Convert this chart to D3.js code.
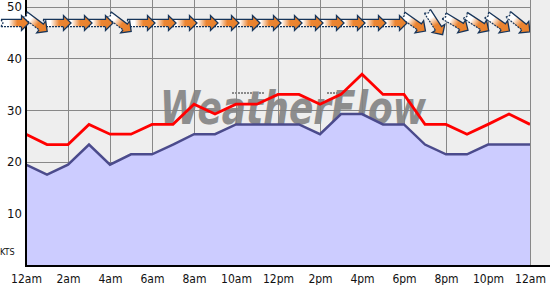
<!DOCTYPE html>
<html>
<head>
<meta charset="utf-8">
<script src="https://cdn.jsdelivr.net/npm/d3@7"></script>
<style>
  body { margin: 0; background: #fff; }
  svg { display: block; }
  text { font-family: "DejaVu Sans Condensed", "DejaVu Sans", sans-serif; }
</style>
</head>
<body>
<div id="chart"></div>
<script>
// hourly samples, knots
const hours = [0, 1, 2, 3, 4, 5, 6, 7, 8, 9, 10, 11, 12, 13, 14, 15, 16, 17, 18, 19, 20, 21, 22, 23, 24];
const lull = [19.4, 17.5, 19.4, 23.3, 19.4, 21.4, 21.4, 23.3, 25.3, 25.3, 27.2, 27.2, 27.2,
              27.2, 25.3, 29.2, 29.2, 27.2, 27.2, 23.3, 21.4, 21.4, 23.3, 23.3, 23.3];
const gust = [25.3, 23.3, 23.3, 27.2, 25.3, 25.3, 27.2, 27.2, 31.1, 29.2, 31.1, 31.1, 33.0,
              33.0, 31.1, 33.0, 36.9, 33.0, 33.0, 27.2, 27.2, 25.3, 27.2, 29.2, 27.2];
// direction the wind comes from, degrees
const windDir = [270, 307, 270, 270, 270, 307, 270, 270, 270, 270, 270, 270, 270,
                 270, 270, 270, 270, 270, 270, 305, 327, 301, 303, 305, 309];
const xTicks = [0, 2, 4, 6, 8, 10, 12, 14, 16, 18, 20, 22, 24];
const xTickLabels = ['12am', '2am', '4am', '6am', '8am', '10am', '12pm', '2pm', '4pm', '6pm', '8pm', '10pm', '12am'];
const yTicks = [10, 20, 30, 40, 50];

const W = 550, H = 285;
const plotLeft = 26, plotRight = 530, plotBottom = 265, plotTop = 6.5;

const svg = d3.select('#chart').append('svg').attr('width', W).attr('height', H);

const x = d3.scaleLinear().domain([0, 24]).range([plotLeft, plotRight]);
const y = d3.scaleLinear().domain([0, 50]).range([plotBottom, plotTop]);

// plot background
svg.append('rect').attr('x', plotLeft).attr('y', 0).attr('width', W - plotLeft).attr('height', plotBottom).attr('fill', '#eeeeee');

// grid
const grid = svg.append('g').attr('stroke', '#888').attr('stroke-width', 1);
grid.selectAll('.vg').data(xTicks).enter().append('line')
  .attr('x1', d => Math.round(x(d)) + 0.5).attr('x2', d => Math.round(x(d)) + 0.5)
  .attr('y1', 0).attr('y2', plotBottom);
grid.selectAll('.hg').data(yTicks).enter().append('line')
  .attr('x1', plotLeft).attr('x2', plotRight)
  .attr('y1', d => Math.round(y(d)) + 0.5).attr('y2', d => Math.round(y(d)) + 0.5);

// watermark
svg.append('text')
  .attr('x', 160).attr('y', 124)
  .attr('textLength', 266).attr('lengthAdjust', 'spacingAndGlyphs')
  .style('font-family', '"DejaVu Sans", sans-serif')
  .style('font-size', '46px').style('font-weight', 'bold').style('font-style', 'italic')
  .attr('fill', '#838383').attr('opacity', 0.9)
  .text('WeatherFlow');
svg.append('g').attr('stroke', '#8a8a8a').attr('stroke-width', 2).attr('stroke-dasharray', '2,1')
  .selectAll('line').data([[232, 264], [327, 347]]).enter().append('line')
  .attr('x1', d => d[0]).attr('x2', d => d[1]).attr('y1', 93).attr('y2', 93);

// lull area + line
const area = d3.area().x((d, i) => x(hours[i])).y0(y(0)).y1(d => y(d));
svg.append('path').datum(lull).attr('d', area).attr('fill', '#ccccff');
const line = d3.line().x((d, i) => x(hours[i])).y(d => y(d));
svg.append('path').datum(lull).attr('d', line)
  .attr('fill', 'none').attr('stroke', '#4b4b8c').attr('stroke-width', 2.5);
svg.append('path').datum(gust).attr('d', line)
  .attr('fill', 'none').attr('stroke', '#ff0000').attr('stroke-width', 2.8);

// right-edge grid line sits over the area
svg.append('line').attr('x1', plotRight + 0.5).attr('x2', plotRight + 0.5).attr('y1', 0).attr('y2', plotBottom)
  .attr('stroke', '#888');

// axes lines
svg.append('line').attr('x1', plotLeft).attr('x2', W).attr('y1', plotBottom + 1).attr('y2', plotBottom + 1)
  .attr('stroke', '#000').attr('stroke-width', 2);
svg.append('line').attr('x1', plotLeft).attr('x2', plotLeft).attr('y1', 0).attr('y2', plotBottom + 2)
  .attr('stroke', '#000').attr('stroke-width', 2);

// wind arrows
const defs = svg.append('defs');
const grad = defs.append('linearGradient').attr('id', 'arrowGrad')
  .attr('x1', 0).attr('x2', 1).attr('y1', 0).attr('y2', 0);
grad.append('stop').attr('offset', '0%').attr('stop-color', '#ffffff');
grad.append('stop').attr('offset', '27%').attr('stop-color', '#ffffff');
grad.append('stop').attr('offset', '58%').attr('stop-color', '#ec8532');
grad.append('stop').attr('offset', '100%').attr('stop-color', '#e8802a');
defs.append('clipPath').attr('id', 'arrowClip').append('rect')
  .attr('x', 0).attr('y', 0).attr('width', plotRight).attr('height', 60);

const L = 28, head = 7.5, hh = 7.5, sh = 3.6;
const tipX = L / 2, baseX = L / 2 - head;
const arrowPath = `M${-L / 2},${-sh}L${baseX},${-sh}L${baseX},${-hh}L${tipX},0` +
  `L${baseX},${hh}L${baseX},${sh}L${-L / 2},${sh}L${-L / 2 + 2},0Z`;
const arrows = svg.append('g').attr('clip-path', 'url(#arrowClip)');
// drawn right to left so each head sits over the next tail
const arrowData = hours.map((h, i) => ({ h, dir: windDir[i] })).reverse();
const ag = arrows.selectAll('.arrow').data(arrowData).enter().append('g')
  .attr('transform', d => `translate(${x(d.h) - 11},23) rotate(${d.dir - 270})`);
ag.append('path').attr('d', arrowPath).attr('fill', 'url(#arrowGrad)');
ag.append('path')
  .attr('d', `M${-L / 2},${-sh}L${baseX},${-sh}L${baseX},${-hh}L${tipX},0L${baseX},${hh}L${baseX},${sh}`)
  .attr('fill', 'none').attr('stroke', '#17355a').attr('stroke-width', 1.3).attr('stroke-linejoin', 'miter');
ag.append('path')
  .attr('d', `M${-L / 2},${sh}L${baseX},${sh}M${-L / 2},${sh}L${-L / 2 + 2},0L${-L / 2},${-sh}`)
  .attr('fill', 'none').attr('stroke', '#17355a').attr('stroke-width', 1.2).attr('stroke-dasharray', '2,1');

// y labels
svg.append('g').selectAll('text').data(yTicks).enter().append('text')
  .attr('x', 22).attr('y', d => y(d)).attr('dy', '0.36em')
  .attr('text-anchor', 'end').style('font-size', '13px').attr('fill', '#111')
  .text(d => d);
svg.append('text').attr('x', 0).attr('y', 255).style('font-size', '9px').attr('fill', '#111').text('KTS');

// x axis labels
const xAxis = d3.axisBottom(x).tickValues(xTicks).tickSize(0).tickPadding(0)
  .tickFormat((d, i) => xTickLabels[i]);
const xg = svg.append('g').attr('transform', `translate(0,${plotBottom})`).call(xAxis);
xg.select('.domain').remove();
xg.selectAll('text').attr('y', 18).attr('dy', 0)
  .style('font-size', '12px').style('font-family', '"DejaVu Sans Condensed", "DejaVu Sans", sans-serif')
  .attr('fill', '#111');
</script>
</body>
</html>
